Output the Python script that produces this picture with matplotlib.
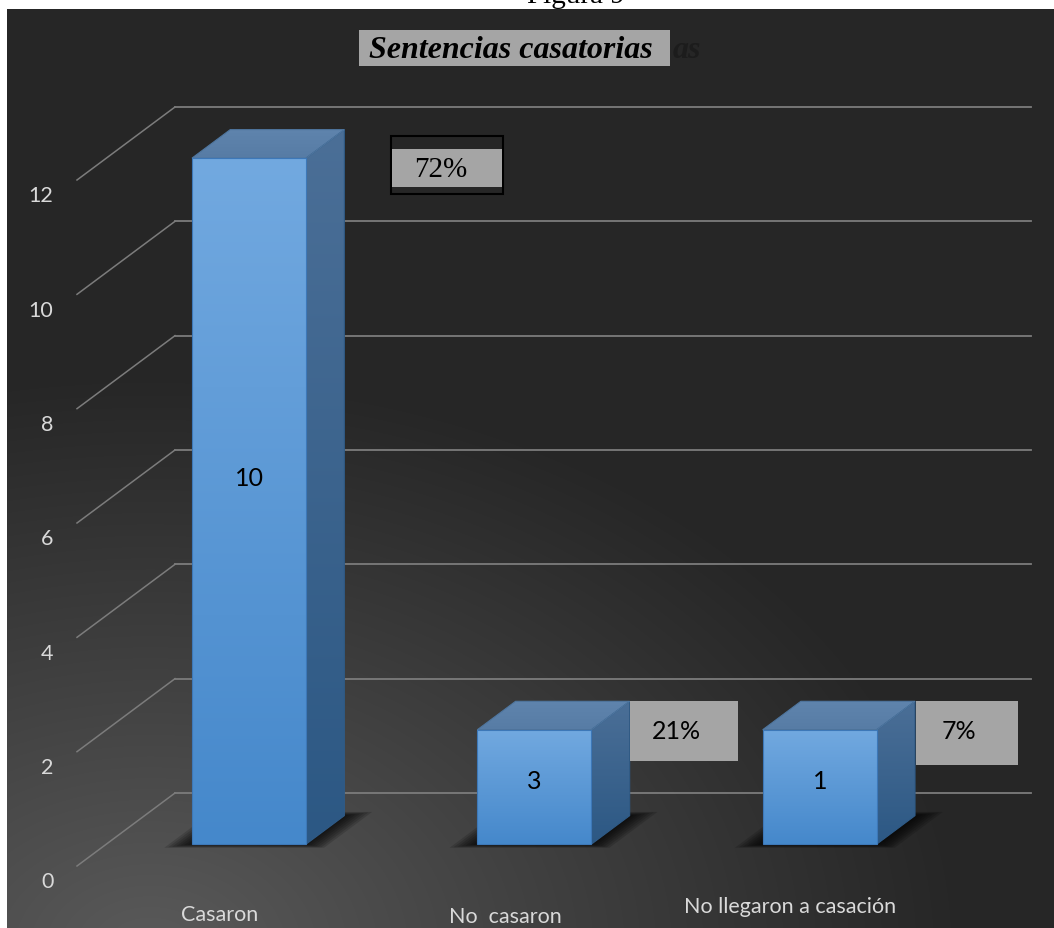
import numpy as np
import matplotlib
matplotlib.use('Agg')
import matplotlib.pyplot as plt
from matplotlib.patches import Polygon, Rectangle
from matplotlib.colors import LinearSegmentedColormap

# data
categories = ['Casaron', 'No  casaron', 'No llegaron a casación']
bar_heights = [12, 2, 2]          # drawn heights
value_labels = ['10', '3', '1']   # numbers printed on the bars
pct_labels = ['72%', '21%', '7%']
y_ticks = [0, 2, 4, 6, 8, 10, 12]

# layout (pixels of the 1054x929 picture)
W, H = 1054, 929
X_LEFT, X_RIGHT = 175, 1031
Y_ZERO, Y_TOP = 794, 108
UX = (X_RIGHT - X_LEFT) / len(categories)
UY = (Y_ZERO - Y_TOP) / float(y_ticks[-1])
DEPTH_DX, DEPTH_DY = -98 / UX, -73 / UY
F_FRONT, F_BACK = 0.70, 0.31
BAR_W = 0.4
cat_label_drop_px = [48, 50, 40]
# percentage boxes, px from the bar's back-top-right corner:
# box offset x, y, box width, height, text offset x, y
pct_boxes = [(47, 6, 112, 58, 96, 39), (0, 0, 108, 60, 47, 29), (1, 0, 102, 64, 44, 29)]


def proj(x, v, f):
    return x + f * DEPTH_DX, v + f * DEPTH_DY


def gradient_fill(ax, verts, c_top, c_bot, z, edge=None):
    poly = Polygon(verts, closed=True, facecolor='none',
                   edgecolor=edge if edge else 'none', lw=0.8, zorder=z + 0.1)
    ax.add_patch(poly)
    xs, ys = zip(*verts)
    cmap = LinearSegmentedColormap.from_list('g', [c_bot, c_top])
    grad = np.linspace(0, 1, 256).reshape(-1, 1)
    im = ax.imshow(grad, cmap=cmap, origin='lower', aspect='auto',
                   extent=(min(xs), max(xs), min(ys), max(ys)),
                   zorder=z, interpolation='bicubic')
    im.set_clip_path(poly)


fig = plt.figure(figsize=(W / 100, H / 100), dpi=100, facecolor='white')

# dark background with a lighter glow at the bottom left
bg = fig.add_axes([7 / W, 0, 1 - 7 / W, (H - 10) / H])
gx, gy = np.meshgrid(np.arange(7, W), np.arange(10, H))
r = np.sqrt(((gx - 150) / 820.0) ** 2 + ((gy - 950) / 580.0) ** 2)
glow = np.clip(1 - r, 0, 1) ** 1.05
shade = (0x26 + (0x5a - 0x26) * glow) / 255.0
bg.imshow(np.dstack([shade, shade, shade]), aspect='auto', interpolation='bilinear')
bg.axis('off')

ax = fig.add_axes([0, 0, 1, 1])
ax.patch.set_visible(False)
ax.axis('off')

# back wall gridlines and floor diagonals
for v in y_ticks:
    ax.plot([-0.5, len(categories) - 0.5], [v, v], color='#7c7c7c', lw=1.3, zorder=1)
    x0, y0 = proj(-0.5, v, 1)
    ax.plot([x0, -0.5], [y0, v], color='#7c7c7c', lw=1.1, zorder=1)
    ax.annotate(str(v), xy=(x0, y0), xytext=(-17, -11), textcoords='offset points',
                ha='right', va='center', color='#d9d9d9', fontsize=15.5, family='Lato')

for i, (h, lab) in enumerate(zip(bar_heights, value_labels)):
    xl, xr = i - BAR_W / 2, i + BAR_W / 2
    fl, yb = proj(xl, 0, F_FRONT)
    fr = fl + BAR_W
    bl, ybb = proj(xl, 0, F_BACK)
    br = bl + BAR_W

    # soft shadow on the floor
    for e in np.linspace(0.08, 0.0, 8):
        ef = 0.05 * e / 0.08
        pts = [proj(xl - e, 0, F_FRONT + ef), proj(xr + e, 0, F_FRONT + ef),
               proj(xr + e, 0, F_BACK - ef), proj(xl - e, 0, F_BACK - ef)]
        ax.add_patch(Polygon(pts, closed=True, facecolor='black', edgecolor='none',
                             alpha=0.15, zorder=2))

    side = [(fr, yb), (br, ybb), (br, ybb + h), (fr, yb + h)]
    top = [(fl, yb + h), (fr, yb + h), (br, ybb + h), (bl, ybb + h)]
    front = [(fl, yb), (fr, yb), (fr, yb + h), (fl, yb + h)]
    gradient_fill(ax, side, '#4b6f97', '#2c5884', 3, edge='#2f5b87')
    gradient_fill(ax, top, '#5f84ad', '#577ca5', 3, edge='#4f769f')
    gradient_fill(ax, front, '#72a9e0', '#4588cb', 4, edge='#3d78b8')

    ax.text((fl + fr) / 2, yb + h * 0.53 + 0.06, lab, ha='center', va='center', fontsize=18,
            family='Lato', color='black', zorder=6)

    # percentage box
    ox, oy, bw, bh, tx, ty = pct_boxes[i]
    px0, py0 = br, ybb + h
    bx, by = px0 + ox / UX, py0 - oy / UY
    if i == 0:
        ax.add_patch(Rectangle((bx, by - bh / UY), bw / UX, bh / UY, facecolor='none',
                               edgecolor='black', lw=1.5, zorder=5))
        ax.add_patch(Rectangle((bx + 1 / UX, by - 51 / UY), 110 / UX, 38 / UY,
                               facecolor='#a5a5a5', edgecolor='none', zorder=5))
        ax.text(px0 + tx / UX, py0 - ty / UY, pct_labels[i], ha='center', va='center',
                fontsize=21, family='Liberation Serif', color='black', zorder=6)
    else:
        ax.add_patch(Rectangle((bx, by - bh / UY), bw / UX, bh / UY,
                               facecolor='#a5a5a5', edgecolor='none', zorder=5))
        ax.text(px0 + tx / UX, py0 - ty / UY, pct_labels[i], ha='center', va='center',
                fontsize=18, family='Lato', color='black', zorder=6)

    cx, cy = proj(i, 0, 1)
    ax.annotate(categories[i], xy=(cx, cy), xytext=(0, -cat_label_drop_px[i] * 0.72),
                textcoords='offset points', ha='center', va='center',
                color='#d9d9d9', fontsize=15.5, family='Lato')

ax.set_xlim(-0.5 - X_LEFT / UX, -0.5 + (W - X_LEFT) / UX)
ax.set_ylim(-(H - Y_ZERO) / UY, Y_ZERO / UY)

# title block
fig.patches.append(Rectangle((359 / W, 1 - 67 / H), 311 / W, 36 / H, transform=fig.transFigure,
                             facecolor='#a5a5a5', edgecolor='none', zorder=3))
fig.text(369 / W, 1 - 50 / H, 'Sentencias casatorias', ha='left', va='center', fontsize=23,
         family='Liberation Serif', weight='bold', style='italic', color='black', zorder=4)
fig.text(673 / W, 1 - 50 / H, 'as', ha='left', va='center', fontsize=23,
         family='Liberation Serif', weight='bold', style='italic', color='#1c1c1c', zorder=4)
fig.text(576 / W, 1 - 3 / H, 'Figura 9', ha='center', va='baseline', fontsize=21,
         family='Liberation Serif', color='black')

fig.savefig('out.png', dpi=100, facecolor='white')
